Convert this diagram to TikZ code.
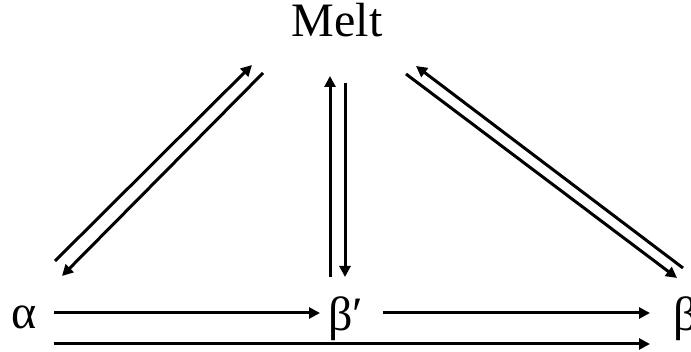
\documentclass[tikz,border=0pt]{standalone}
\usepackage{fontspec}
\setmainfont{Liberation Serif}
\usetikzlibrary{arrows.meta}
\begin{document}
\begin{tikzpicture}[x=1pt,y=-1pt,
  conn/.style={line width=3pt,-{Triangle[length=11pt,width=11pt]}},
  lbl/.style={font=\fontsize{48}{54}\selectfont,inner sep=0pt,anchor=base}]
\useasboundingbox (0,0) rectangle (691,352);
\node[lbl] (melt) at (337,37) {Melt};
\node[lbl] (alpha) at (24,329) {α};
\node[lbl] (betap) at (346,331) {β′};
\node[lbl,anchor=base west] (beta) at (673,331) {β};
% endpoints
\coordinate (lu1) at (55,261);  \coordinate (lu2) at (252,65);
\coordinate (ld1) at (263,73);  \coordinate (ld2) at (62,276);
\coordinate (mu1) at (330,277); \coordinate (mu2) at (330,76);
\coordinate (md1) at (345,83);  \coordinate (md2) at (345,277);
\coordinate (ru1) at (683,268); \coordinate (ru2) at (416,66);
\coordinate (rd1) at (406,74);  \coordinate (rd2) at (677,278);
\coordinate (h1a) at (54,313);  \coordinate (h1b) at (320,313);
\coordinate (h2a) at (383,313); \coordinate (h2b) at (650,313);
\coordinate (h3a) at (54,344);  \coordinate (h3b) at (650,344);
\draw[conn] (lu1) -- (lu2);
\draw[conn] (ld1) -- (ld2);
\draw[conn] (mu1) -- (mu2);
\draw[conn] (md1) -- (md2);
\draw[conn] (ru1) -- (ru2);
\draw[conn] (rd1) -- (rd2);
\draw[conn] (h1a) -- (h1b);
\draw[conn] (h2a) -- (h2b);
\draw[conn] (h3a) -- (h3b);
\end{tikzpicture}
\end{document}
